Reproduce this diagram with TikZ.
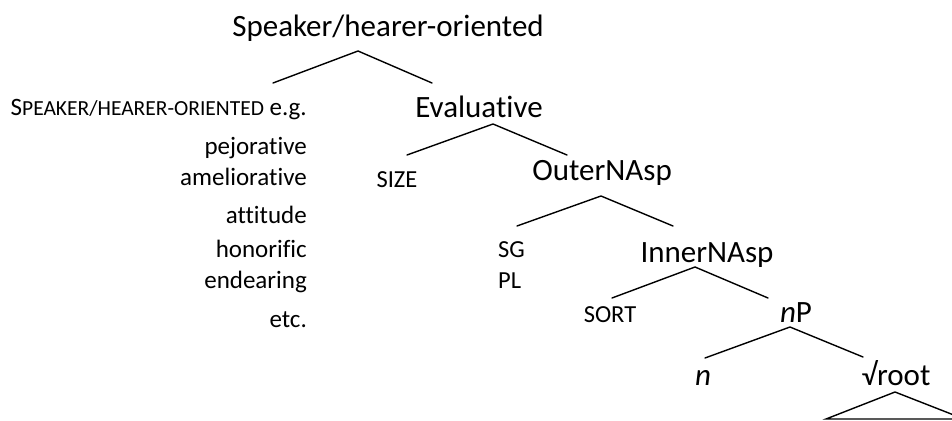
\documentclass[tikz,border=0pt]{standalone}
\usepackage{fontspec}
\setmainfont{Carlito}[Ligatures=NoCommon]
\begin{document}
\begin{tikzpicture}[x=1pt,y=-1pt,
  big/.style={font=\fontsize{31}{37}\selectfont, inner sep=0pt, anchor=base},
  small/.style={font=\fontsize{24.5}{29}\selectfont, inner sep=0pt, anchor=base},
  leftlist/.style={font=\fontsize{25}{30}\selectfont, inner sep=0pt, anchor=base east},
  branch/.style={line width=1.4pt, line cap=round}]
\useasboundingbox (0,0) rectangle (952,420);
\clip (0,0) rectangle (952,420);
% labels
\node[big] (root) at (388,37) {Speaker/hearer-oriented};
\node[big] (eval) at (479,117) {Evaluative};
\node[big] (outer) at (602,180) {OuterNAsp};
\node[big] (inner) at (707,262) {InnerNAsp};
\node[big] (np) at (796,322) {\textit{n}P};
\node[big] (n) at (703,385) {\textit{n}};
\node[big] (rt) at (896,385) {√root};
\node[small] (size) at (397,187) {SIZE};
\node[small, anchor=base west] (sg) at (498,257) {SG};
\node[small, anchor=base west] (pl) at (498,288) {PL};
\node[small] (sort) at (610,322) {SORT};
% left list
\node[leftlist] (sho) at (307,115) {S{\fontsize{21.5}{25}\selectfont PEAKER/HEARER-ORIENTED} e.g.};
\node[leftlist] (pej) at (307,154) {pejorative};
\node[leftlist] (ame) at (307,185) {ameliorative};
\node[leftlist] (att) at (307,223) {attitude};
\node[leftlist] (hon) at (307,257) {honorific};
\node[leftlist] (end) at (307,288) {endearing};
\node[leftlist] (etc) at (307,327) {etc.};
% branch points
\coordinate (rA) at (358,51); \coordinate (rL) at (273,83); \coordinate (rR) at (432,83);
\coordinate (eA) at (493,124); \coordinate (eL) at (407,155); \coordinate (eR) at (567,155);
\coordinate (oA) at (601,196); \coordinate (oL) at (517,226); \coordinate (oR) at (673,226);
\coordinate (iA) at (695,267); \coordinate (iL) at (612,298); \coordinate (iR) at (768,298);
\coordinate (nA) at (790,327); \coordinate (nL) at (705,358); \coordinate (nR) at (863,357);
\coordinate (tA) at (895,392); \coordinate (tL) at (826,419); \coordinate (tR) at (964,419);
\draw[branch] (rL) -- (rA) -- (rR);
\draw[branch] (eL) -- (eA) -- (eR);
\draw[branch] (oL) -- (oA) -- (oR);
\draw[branch] (iL) -- (iA) -- (iR);
\draw[branch] (nL) -- (nA) -- (nR);
\draw[branch] (tL) -- (tA) -- (tR) -- cycle;
\end{tikzpicture}
\end{document}
